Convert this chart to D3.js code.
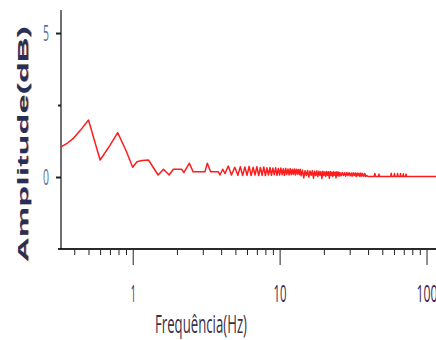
<!DOCTYPE html>
<html>
<head>
  <meta charset="utf-8" />
  <style>
    body { margin: 0; background: #fff; }
    svg { display: block; }
  </style>
</head>
<body>
  <div id='chart'></div>
<script src="https://cdn.jsdelivr.net/npm/d3@7/dist/d3.min.js"></script>
<script>

// spectrum (Hz, dB)
const freqHz = [
  0.325, 0.36, 0.394, 0.44, 0.50, 0.60, 0.70, 0.79, 0.90, 1.00,
  1.07, 1.16, 1.28, 1.49, 1.62, 1.77, 1.89, 2.15, 2.23, 2.43,
  2.58, 3.10, 3.22, 3.39, 3.83, 3.92, 4.10, 4.25, 4.47, 4.70,
  4.95, 5.20, 5.40, 5.60, 5.80, 6.00, 6.20, 6.40, 6.60, 6.80,
  7.00, 7.20, 7.40, 7.60, 7.80, 8.00, 8.20, 8.40, 8.60, 8.80,
  9.00, 9.20, 9.40, 9.60, 9.80, 10.0, 10.2, 10.4, 10.6, 10.8,
  11.0, 11.2, 11.4, 11.6, 11.8, 12.0, 12.2, 12.4, 12.6, 12.8,
  13.0, 13.2, 13.4, 13.6, 13.8, 14.0, 14.3, 14.6, 14.9, 15.2,
  15.5, 15.8, 16.1, 16.4, 16.7, 17.0, 17.3, 17.6, 17.9, 18.2,
  18.5, 18.8, 19.1, 19.4, 19.7, 20.0, 20.3, 20.6, 20.9, 21.2,
  21.5, 21.8, 22.1, 22.4, 22.7, 23.0, 23.3, 23.6, 23.9, 24.2,
  24.5, 24.8, 25.1, 25.4, 25.7, 26.2, 26.7, 27.2, 27.7, 28.2,
  28.7, 29.2, 29.7, 30.2, 30.7, 31.2, 31.7, 32.2, 32.7, 33.2,
  33.7, 34.2, 34.7, 35.2, 35.7, 36.2, 36.7, 37.4, 38.0, 38.6,
  39.2, 40.0, 44.0, 44.5, 45.0, 47.0, 47.5, 48.0, 52.0, 57.0,
  57.5, 58.0, 60.0, 60.5, 61.0, 63.0, 63.5, 64.0, 66.0, 66.5,
  67.0, 69.0, 69.5, 70.0, 72.0, 72.5, 73.0, 116
]
const ampDb = [
  1.05, 1.18, 1.34, 1.62, 1.98, 0.59, 1.10, 1.54, 0.92, 0.34,
  0.53, 0.57, 0.59, 0.07, 0.27, 0.07, 0.27, 0.27, 0.15, 0.48,
  0.18, 0.18, 0.48, 0.18, 0.18, 0.07, 0.27, 0.12, 0.38, 0.07,
  0.34, 0.06, 0.36, 0.05, 0.35, 0.06, 0.37, 0.05, 0.34, 0.07,
  0.36, 0.05, 0.33, 0.06, 0.35, 0.05, 0.32, 0.07, 0.33, 0.06,
  0.31, 0.08, 0.32, 0.06, 0.30, 0.07, 0.31, 0.08, 0.29, 0.06,
  0.30, 0.09, 0.28, 0.07, 0.29, 0.08, 0.27, 0.09, 0.28, 0.07,
  0.27, 0.10, 0.26, 0.08, 0.27, 0.04, 0.24, -0.03, 0.22, 0.05,
  0.23, 0.00, 0.21, 0.06, 0.22, -0.04, 0.20, 0.05, 0.21, 0.01,
  0.20, 0.06, 0.19, -0.05, 0.20, 0.05, 0.18, 0.02, 0.19, 0.06,
  0.18, -0.04, 0.19, 0.05, 0.17, 0.02, 0.18, 0.06, 0.17, -0.03,
  0.18, 0.05, 0.17, 0.03, 0.16, 0.04, 0.16, 0.05, 0.15, 0.03,
  0.16, 0.05, 0.15, 0.04, 0.14, 0.03, 0.15, 0.05, 0.14, 0.02,
  0.14, 0.04, 0.13, 0.02, 0.14, 0.03, 0.12, 0.02, 0.12, 0.02,
  0.05, 0.02, 0.02, 0.12, 0.02, 0.02, 0.10, 0.02, 0.02, 0.02,
  0.13, 0.02, 0.02, 0.12, 0.02, 0.02, 0.12, 0.02, 0.02, 0.12,
  0.02, 0.02, 0.11, 0.02, 0.02, 0.10, 0.02, 0.02
]

const majorTicks = [1, 10, 100]
const minorTicks = [0.4, 0.5, 0.6, 0.7, 0.8, 0.9, 2, 3, 4, 5, 6, 7, 8, 9,
  20, 30, 40, 50, 60, 70, 80, 90]
const yLabelTicks = [0, 5]
const yMinorTicks = [2.5]

const W = 436, H = 340

const svg = d3.select('#chart').append('svg')
  .attr('width', W).attr('height', H)

const x = d3.scaleLog().domain([0.325, 116]).range([61, 436])
const y = d3.scaleLinear().domain([-2.5, 5.8]).range([249, 10])

// x axis, minor then major ticks
const xMinor = svg.append('g')
  .attr('transform', 'translate(0,249)')
  .call(d3.axisBottom(x).tickValues(minorTicks).tickSize(6).tickFormat(''))
xMinor.select('.domain').remove()
xMinor.selectAll('line').attr('stroke', '#222')

const xMajor = svg.append('g')
  .attr('transform', 'translate(0,249)')
  .call(d3.axisBottom(x).tickValues(majorTicks).tickSize(16).tickFormat(d3.format('d')))
xMajor.select('.domain').remove()
xMajor.selectAll('line').attr('stroke', '#222')
xMajor.selectAll('text')
  .attr('y', 53).attr('dy', 0)
  .attr('font-family', 'Open Sans, sans-serif')
  .attr('font-size', 23)
  .attr('fill', '#3b2a56')
  .attr('lengthAdjust', 'spacingAndGlyphs')
  .attr('textLength', d => d === 1 ? 5 : d === 10 ? 13 : 21)

svg.append('line')
  .attr('x1', 58).attr('x2', W)
  .attr('y1', 249).attr('y2', 249)
  .attr('stroke', '#2a2a2a').attr('stroke-width', 2)

// y axis
const yAx = svg.append('g')
  .attr('transform', 'translate(61,0)')
  .call(d3.axisLeft(y).tickValues(yLabelTicks).tickSize(5).tickPadding(11))
yAx.select('.domain').remove()
yAx.selectAll('line').attr('stroke', '#222').attr('stroke-width', 2)
yAx.selectAll('text')
  .attr('text-anchor', 'middle').attr('x', -15)
  .attr('font-family', 'Open Sans, sans-serif')
  .attr('font-size', 22)
  .attr('fill', '#56709c')
  .attr('lengthAdjust', 'spacingAndGlyphs')
  .attr('textLength', 6)

const yMin = svg.append('g')
  .attr('transform', 'translate(61,0)')
  .call(d3.axisLeft(y).tickValues(yMinorTicks).tickSize(3).tickFormat(''))
yMin.select('.domain').remove()
yMin.selectAll('line').attr('stroke', '#222').attr('stroke-width', 2)

svg.append('line')
  .attr('x1', 61).attr('x2', 61)
  .attr('y1', 10).attr('y2', 249)
  .attr('stroke', '#111').attr('stroke-width', 1.2)

// the curve
const pts = freqHz.map((f, i) => [f, ampDb[i]])
svg.append('path')
  .datum(pts)
  .attr('fill', 'none')
  .attr('stroke', '#ff1c1c')
  .attr('stroke-width', 1.5)
  .attr('stroke-linejoin', 'round')
  .attr('d', d3.line().x(d => x(d[0])).y(d => y(d[1])))

// axis titles
svg.append('text')
  .attr('x', 155).attr('y', 333)
  .attr('font-family', 'Open Sans, sans-serif')
  .attr('font-size', 26)
  .attr('fill', '#3a3046')
  .attr('lengthAdjust', 'spacingAndGlyphs')
  .attr('textLength', 92)
  .text('Frequência(Hz)')

const yTitle = (dx, col, op) => svg.append('text')
  .attr('transform', `translate(${28 + dx},262) rotate(-90)`)
  .attr('font-family', 'Liberation Sans, Arial, sans-serif')
  .attr('font-weight', 'bold')
  .attr('font-size', 15)
  .attr('fill', col)
  .attr('opacity', op)
  .attr('lengthAdjust', 'spacingAndGlyphs')
  .attr('textLength', 236)
  .text('Amplitude(dB)')

yTitle(1, '#d88a2c', 0.7)
yTitle(0, '#24305c', 1)

</script>
</body>
</html>
